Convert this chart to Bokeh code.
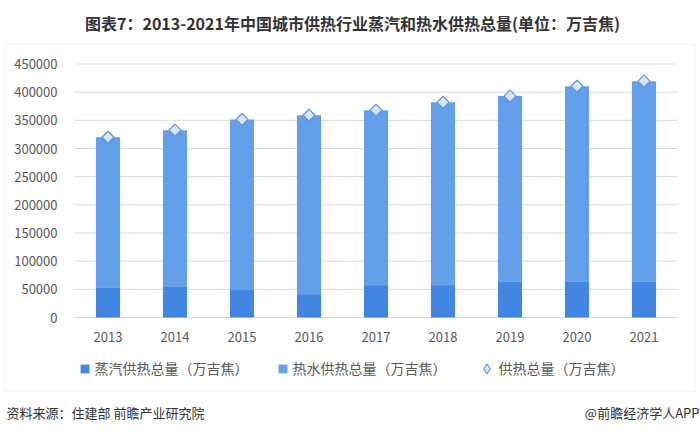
import math
from bokeh.plotting import figure
from bokeh.models import (Range1d, Label, Legend, LegendItem, BoxAnnotation, LinearAxis,
                          ColumnDataSource, FixedTicker, BasicTickFormatter)
from bokeh.embed import file_html
from bokeh.resources import INLINE

# ---- data ----
years = [2013, 2014, 2015, 2016, 2017, 2018, 2019, 2020, 2021]
steam = [53500, 55500, 50000, 41500, 57500, 57500, 64500, 64500, 64500]
water = [266500, 277000, 301500, 317500, 310500, 324500, 328500, 346000, 355000]
total = [320000, 332500, 351500, 359000, 368000, 382000, 393000, 410500, 419500]
y_ticks = [0, 50000, 100000, 150000, 200000, 250000, 300000, 350000, 400000, 450000]

title_text = "图表7：2013-2021年中国城市供热行业蒸汽和热水供热总量(单位：万吉焦)"
series_names = ["蒸汽供热总量（万吉焦）", "热水供热总量（万吉焦）", "供热总量（万吉焦）"]
source_text = "资料来源：住建部 前瞻产业研究院"
brand_text = "@前瞻经济学人APP"

FONT = "Noto Sans CJK SC"
C_STEAM = "#4186e0"
C_WATER = "#63a0e9"
C_DIA_FILL = "#dae6f8"
C_DIA_LINE = "#5b96e3"
GRID = "#d9d9d9"
TXT = "#595959"

# ---- layout (canvas pixels) ----
W, H = 700, 436
PX_L, PX_R = 74, 677        # plot area left/right
PY_TOP, PY_ZERO = 63.5, 317  # pixel of top tick and of zero

x_lo, x_hi = years[0] - 0.5, years[-1] + 0.5
ppx = (PX_R - PX_L) / (x_hi - x_lo)
y_top = y_ticks[-1]
ppy = (PY_ZERO - PY_TOP) / y_top
x_range = Range1d(x_lo - PX_L / ppx, x_hi + (W - PX_R) / ppx)
y_range = Range1d(-(H - PY_ZERO) / ppy, y_top + PY_TOP / ppy)

p = figure(width=W, height=H, x_range=x_range, y_range=y_range,
           output_backend="svg", toolbar_location=None,
           x_axis_location=None, y_axis_location=None,
           min_border=0, min_border_left=0, min_border_right=0,
           min_border_top=0, min_border_bottom=0)
p.outline_line_color = None
p.background_fill_color = "white"
p.border_fill_color = "white"
p.xgrid.visible = False
p.ygrid.visible = False

# pixel helper ranges (canvas pixels, y downward)
p.extra_x_ranges = {"px": Range1d(0, W)}
p.extra_y_ranges = {"py": Range1d(H, 0)}

# card border
p.add_layout(BoxAnnotation(left=4, right=695, top=44, bottom=391,
                           x_range_name="px", y_range_name="py",
                           fill_alpha=0, line_color=GRID, line_width=1.5))

# gridlines
p.segment(x0=x_lo, x1=x_hi, y0=y_ticks, y1=y_ticks, line_color=GRID, line_width=1)

src = ColumnDataSource(dict(year=years, steam=steam, water=water, total=total))
bars = p.vbar_stack(["steam", "water"], x="year", width=0.36, source=src,
                    fill_color=[C_STEAM, C_WATER], line_color=None)
p.scatter(x="year", y="total", source=src, marker="square", angle=math.pi / 4,
          size=8.5, fill_color=C_DIA_FILL, line_color=C_DIA_LINE, line_width=1.2)
# legend-only diamond renderer (same data, hidden in the plot)
dia_leg = p.scatter(x="year", y="total", source=src, marker="diamond",
                    fill_color=C_DIA_FILL, line_color=C_DIA_LINE, line_width=1.2,
                    visible=False)

# axes (fixed at the plot-area edges)
yax = LinearAxis(fixed_location=x_lo, ticker=FixedTicker(ticks=y_ticks),
                 formatter=BasicTickFormatter(use_scientific=False))
yax.axis_line_color = None
yax.major_tick_line_color = None
yax.minor_tick_line_color = None
yax.major_tick_out = 0
yax.major_tick_in = 0
yax.major_label_standoff = 17
yax.major_label_text_font = FONT
yax.major_label_text_font_size = "13px"
yax.major_label_text_color = TXT
p.add_layout(yax, "left")

xax = LinearAxis(fixed_location=0, ticker=FixedTicker(ticks=years),
                 formatter=BasicTickFormatter(use_scientific=False))
xax.axis_line_color = None
xax.major_tick_line_color = None
xax.minor_tick_line_color = None
xax.major_tick_out = 0
xax.major_tick_in = 0
xax.major_label_standoff = 14
xax.major_label_text_font = FONT
xax.major_label_text_font_size = "13px"
xax.major_label_text_color = TXT
p.add_layout(xax, "below")

# title & footer texts
p.add_layout(Label(x=352, y=22, x_range_name="px", y_range_name="py", text=title_text,
                   text_align="center", text_baseline="middle", text_font=FONT,
                   text_font_size="16px", text_font_style="bold", text_color="#333333"))
p.add_layout(Label(x=6, y=412, x_range_name="px", y_range_name="py", text=source_text,
                   text_align="left", text_baseline="middle", text_font=FONT,
                   text_font_size="13px", text_color="#333333"))
p.add_layout(Label(x=699, y=412, x_range_name="px", y_range_name="py", text=brand_text,
                   text_align="right", text_baseline="middle", text_font=FONT,
                   text_font_size="13px", text_color="#333333"))

# legends (screen units from the canvas bottom-left)
leg1 = Legend(items=[LegendItem(label=series_names[0], renderers=[bars[0]]),
                     LegendItem(label=series_names[1], renderers=[bars[1]])],
              location=(78.5, H - 378), orientation="horizontal", padding=0, margin=0,
              spacing=28, glyph_width=11, glyph_height=11, label_standoff=5,
              label_text_font=FONT, label_text_font_size="14px", label_text_color=TXT,
              border_line_color=None, background_fill_alpha=0)
leg2 = Legend(items=[LegendItem(label=series_names[2], renderers=[dia_leg])],
              location=(473.5, H - 380.5), orientation="horizontal", padding=0, margin=0,
              glyph_width=25, glyph_height=25, label_standoff=-4,
              label_text_font=FONT, label_text_font_size="14px", label_text_color=TXT,
              border_line_color=None, background_fill_alpha=0)
p.add_layout(leg1, "center")
p.add_layout(leg2, "center")

open("out.html", "w").write(file_html(p, INLINE))
